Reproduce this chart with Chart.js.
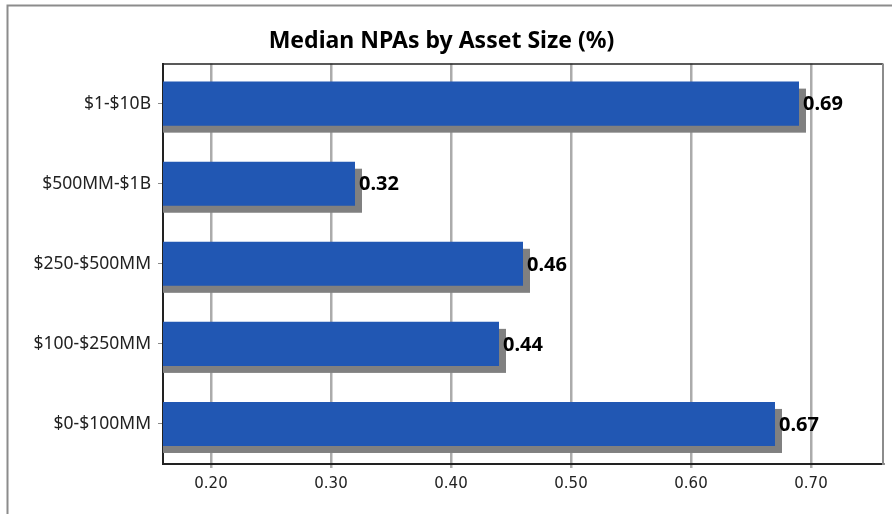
<!DOCTYPE html>
<html>
<head>
<meta charset="utf-8">
<script src="https://cdn.jsdelivr.net/npm/chart.js@4.4.1/dist/chart.umd.min.js"></script>
<style>
  html, body { margin: 0; padding: 0; background: #fff; }
  #wrap { width: 892px; height: 514px; position: relative; }
</style>
</head>
<body>
<div id="wrap"><canvas id="npaChart"></canvas></div>
<script>
// asset size buckets, top to bottom
const categories = ['$1-$10B', '$500MM-$1B', '$250-$500MM', '$100-$250MM', '$0-$100MM'];
const medianNPA = [0.69, 0.32, 0.46, 0.44, 0.67];
const xTicks = [0.20, 0.30, 0.40, 0.50, 0.60, 0.70];

const SHADOW = 7;

// white page with the thin gray frame along the top and left
const framePlugin = {
    id: 'frame',
    beforeDraw(chart) {
        const ctx = chart.ctx;
        ctx.save();
        ctx.fillStyle = '#fff';
        ctx.fillRect(0, 0, chart.width, chart.height);
        ctx.strokeStyle = '#8c8c8c';
        ctx.lineWidth = 2;
        ctx.beginPath();
        ctx.moveTo(7.5, chart.height);
        ctx.lineTo(7.5, 5.5);
        ctx.lineTo(chart.width, 5.5);
        ctx.stroke();
        ctx.restore();
    },
    afterDraw(chart) {
        const a = chart.chartArea;
        const ctx = chart.ctx;
        ctx.save();
        ctx.strokeStyle = '#222';
        ctx.lineWidth = 1.5;
        ctx.beginPath();
        ctx.moveTo(a.left, a.top + 0.5);
        ctx.lineTo(a.right, a.top + 0.5);
        ctx.stroke();
        ctx.strokeStyle = '#8c8c8c';
        ctx.lineWidth = 2;
        ctx.beginPath();
        ctx.moveTo(a.right, a.top);
        ctx.lineTo(a.right, a.bottom + 1);
        ctx.stroke();
        ctx.restore();
    }
};

// gray offset block behind each bar, starting at the left axis
const shadowPlugin = {
    id: 'barShadow',
    beforeDatasetsDraw(chart) {
        const ctx = chart.ctx;
        const left = chart.chartArea.left;
        const meta = chart.getDatasetMeta(0);
        ctx.save();
        ctx.fillStyle = '#808080';
        meta.data.forEach(bar => {
            const p = bar.getProps(['x', 'y', 'base', 'height'], true);
            const start = Math.max(p.base, left);
            ctx.fillRect(start, p.y - p.height / 2 + SHADOW, p.x - start + SHADOW, p.height);
        });
        ctx.restore();
    }
};

// bold value next to each bar
const valueLabels = {
    id: 'valueLabels',
    afterDatasetsDraw(chart) {
        const ctx = chart.ctx;
        const meta = chart.getDatasetMeta(0);
        ctx.save();
        ctx.font = 'bold 20px "Noto Sans"';
        ctx.fillStyle = '#000';
        ctx.textAlign = 'left';
        ctx.textBaseline = 'middle';
        meta.data.forEach((bar, i) => {
            ctx.fillText(medianNPA[i].toFixed(2), bar.x + 4, bar.y + 1);
        });
        ctx.restore();
    }
};

const ctx = document.getElementById('npaChart').getContext('2d');
new Chart(ctx, {
    type: 'bar',
    data: {
        labels: categories,
        datasets: [{
            data: medianNPA,
            backgroundColor: '#2157b3',
            borderWidth: 0,
            barPercentage: 0.55,
            categoryPercentage: 1
        }]
    },
    options: {
        indexAxis: 'y',
        responsive: true,
        maintainAspectRatio: false,
        animation: false,
        layout: {
            padding: { left: 0, right: 9, top: 0, bottom: 0 }
        },
        plugins: {
            legend: { display: false },
            tooltip: { enabled: false },
            title: {
                display: true,
                text: 'Median NPAs by Asset Size (%)',
                color: '#000',
                font: { family: '"Noto Sans"', size: 23, weight: 'bold', lineHeight: 1.2 },
                padding: { top: 28, bottom: 8 }
            }
        },
        scales: {
            x: {
                min: 0.16,
                max: 0.76,
                afterBuildTicks(scale) {
                    scale.ticks = xTicks.map(v => ({ value: v }));
                },
                afterFit(scale) {
                    scale.height = 50;
                },
                grid: {
                    color: '#ababab',
                    lineWidth: 2.5,
                    drawTicks: true,
                    tickLength: 4
                },
                border: { color: '#222', width: 2 },
                ticks: {
                    color: '#222',
                    padding: 7,
                    font: { family: '"DejaVu Sans"', size: 15 },
                    callback: v => Number(v).toFixed(2)
                }
            },
            y: {
                afterFit(scale) {
                    scale.width = 163;
                },
                grid: {
                    offset: false,
                    drawOnChartArea: false,
                    drawTicks: true,
                    tickLength: 5,
                    color: '#888'
                },
                border: { color: '#222', width: 2 },
                ticks: {
                    color: '#222',
                    padding: 7,
                    font: { family: '"Noto Sans"', size: 17.5 }
                }
            }
        }
    },
    plugins: [framePlugin, shadowPlugin, valueLabels]
});
</script>
</body>
</html>
